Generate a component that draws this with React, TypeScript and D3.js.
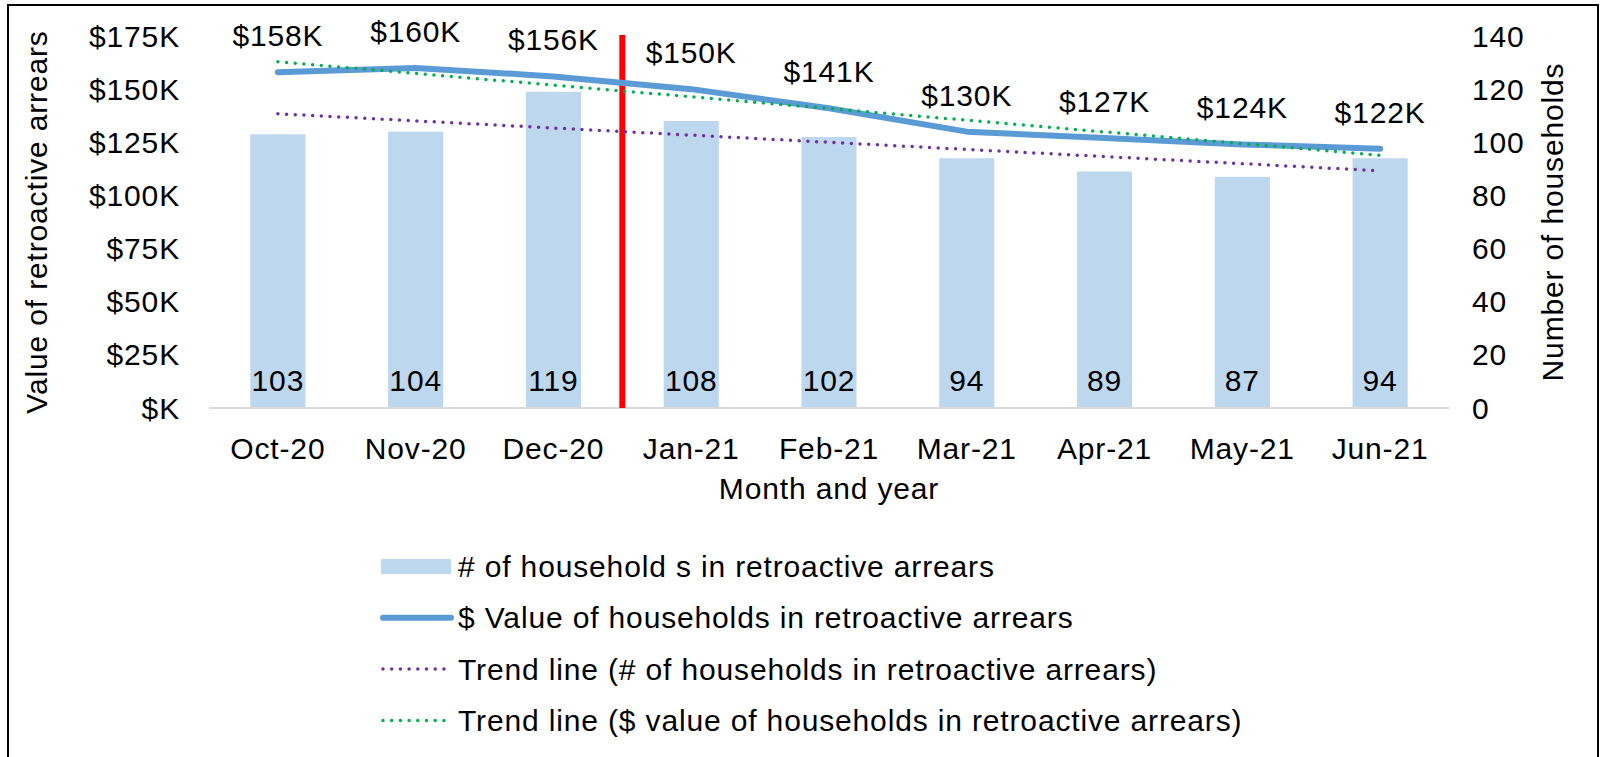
import * as d3 from 'd3';
import React from 'react';

const months = ['Oct-20', 'Nov-20', 'Dec-20', 'Jan-21', 'Feb-21', 'Mar-21', 'Apr-21', 'May-21', 'Jun-21'];
const households = [103, 104, 119, 108, 102, 94, 89, 87, 94];
const arrearsK = [158, 160, 156, 150, 141, 130, 127, 124, 122];
const leftTicks = [0, 25, 50, 75, 100, 125, 150, 175];
const leftTickLabels = ['$K', '$25K', '$50K', '$75K', '$100K', '$125K', '$150K', '$175K'];
const rightTicks = [0, 20, 40, 60, 80, 100, 120, 140];
const legendLabels = [
  '# of household s in retroactive arrears',
  '$ Value of households in retroactive arrears',
  'Trend line (# of households in retroactive arrears)',
  'Trend line ($ value of households in retroactive arrears)',
];
const policyMonth = 'Jan-21';

const W = 1600;
const H = 757;
const m = { left: 209, right: 1449, top: 36, bottom: 408 };
const font = "'Liberation Sans', Arial, sans-serif";

// least squares trend, like excel's linear trendline
function trend(vals: number[]) {
  const xs = vals.map((_, i) => i);
  const mx = d3.mean(xs)!;
  const my = d3.mean(vals)!;
  const sxy = d3.sum(xs, (x, i) => (x - mx) * (vals[i] - my));
  const sxx = d3.sum(xs, (x) => (x - mx) * (x - mx));
  const slope = sxy / sxx;
  return xs.map((x) => my + slope * (x - mx));
}

export default function App() {
  const x = d3.scaleBand().domain(months).range([m.left, m.right]).padding(0);
  const cx = (d: string) => x(d)! + x.bandwidth() / 2;
  const yL = d3.scaleLinear().domain([0, 175]).range([m.bottom, m.top]);
  const yR = d3.scaleLinear().domain([0, 140]).range([m.bottom, m.top]);
  const barW = x.bandwidth() * 0.4;

  const line = d3.line<number>().x((_, i) => cx(months[i]));
  const valuePath = line.y((d) => yL(d))(arrearsK)!;
  const countTrend = d3.line<number>().x((_, i) => cx(months[i])).y((d) => yR(d))(trend(households))!;
  const valueTrend = d3.line<number>().x((_, i) => cx(months[i])).y((d) => yL(d))(trend(arrearsK))!;

  const dotted = { strokeWidth: 3.5, strokeDasharray: '0 8.7', strokeLinecap: 'round' as const, fill: 'none' };
  const legX = 381;
  const legW = 70;
  const legY = (i: number) => 566.5 + i * 51.3;

  return (
    <svg width={W} height={H} style={{ position: 'absolute', left: 0, top: 0, fontFamily: font, letterSpacing: '0.85px' }}>
      <rect x={0} y={0} width={W} height={H} fill="#fff" />
      <rect x={8} y={5} width={1590} height={780} fill="none" stroke="#000" strokeWidth={2} />

      {months.map((d, i) => (
        <rect key={d} x={cx(d) - barW / 2} y={yR(households[i])} width={barW} height={m.bottom - yR(households[i])} fill="#bdd7ee" />
      ))}
      <line x1={m.left} x2={m.right} y1={m.bottom} y2={m.bottom} stroke="#d9d9d9" strokeWidth={2} />

      <line x1={x(policyMonth)!} x2={x(policyMonth)!} y1={35} y2={m.bottom} stroke="#ff0000" strokeWidth={6} />

      <path d={countTrend} stroke="#7030a0" {...dotted} />
      <path d={valuePath} stroke="#5b9bd5" strokeWidth={6} fill="none" strokeLinecap="round" strokeLinejoin="round" />
      <path d={valueTrend} stroke="#00b050" {...dotted} />

      {months.map((d, i) => (
        <text key={d} x={cx(d)} y={391} fontSize={30} textAnchor="middle">{households[i]}</text>
      ))}
      {months.map((d, i) => (
        <text key={d} x={cx(d)} y={yL(arrearsK[i]) - 26} fontSize={30} textAnchor="middle">{`$${arrearsK[i]}K`}</text>
      ))}

      {leftTicks.map((t, i) => (
        <text key={t} x={180} y={yL(t)} dy="0.35em" fontSize={30} textAnchor="end">{leftTickLabels[i]}</text>
      ))}
      {rightTicks.map((t) => (
        <text key={t} x={1472} y={yR(t)} dy="0.35em" fontSize={30}>{t}</text>
      ))}
      {months.map((d) => (
        <text key={d} x={cx(d)} y={459} fontSize={30} textAnchor="middle">{d}</text>
      ))}

      <text x={829} y={499} fontSize={30} textAnchor="middle">Month and year</text>
      <text transform="translate(36,222) rotate(-90)" fontSize={30} textAnchor="middle" dy="0.35em">Value of retroactive arrears</text>
      <text transform="translate(1552,222) rotate(-90)" fontSize={30} textAnchor="middle" dy="0.35em">Number of households</text>

      <rect x={legX} y={legY(0) - 7.5} width={legW} height={15} fill="#bdd7ee" />
      <line x1={legX + 2} x2={legX + legW} y1={legY(1)} y2={legY(1)} stroke="#5b9bd5" strokeWidth={6} strokeLinecap="round" />
      <line x1={legX + 2} x2={legX + legW} y1={legY(2)} y2={legY(2)} stroke="#7030a0" {...dotted} />
      <line x1={legX + 2} x2={legX + legW} y1={legY(3)} y2={legY(3)} stroke="#00b050" {...dotted} />
      {legendLabels.map((l, i) => (
        <text key={l} x={458} y={legY(i)} dy="0.35em" fontSize={30}>{l}</text>
      ))}
    </svg>
  );
}
